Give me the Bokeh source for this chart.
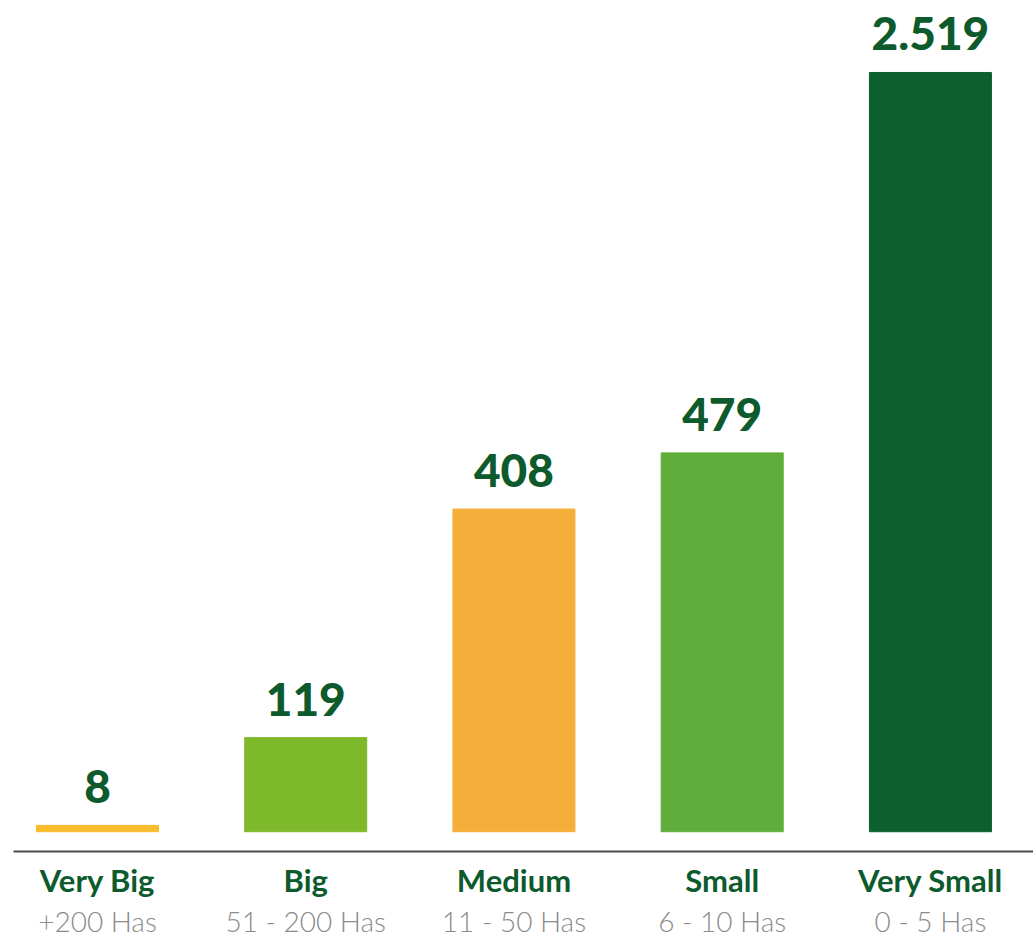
from bokeh.plotting import figure
from bokeh.models import ColumnDataSource, Range1d, FixedTicker, LinearAxis, LabelSet
from bokeh.core.properties import value
from bokeh.embed import file_html
from bokeh.resources import INLINE

# ---- data ----
categories = ["Very Big", "Big", "Medium", "Small", "Very Small"]
size_ranges = ["+200 Has", "51 - 200 Has", "11 - 50 Has", "6 - 10 Has", "0 - 5 Has"]
values = [8, 119, 408, 479, 2519]
value_labels = ["8", "119", "408", "479", "2.519"]
colors = ["#F8BC2C", "#7EB82B", "#F6AE3B", "#5FAD3A", "#0B602D"]

GREEN_TEXT = "#0D5A2D"
GRAY_TEXT = "#8C8C8C"
Y_START, Y_END = -25, 1051
BAR_CAP = 960  # the tallest bar is drawn broken (truncated) at this height

xs = list(range(len(categories)))
shown = [min(v, BAR_CAP) for v in values]
src = ColumnDataSource(dict(
    x=xs,
    top=shown,
    color=colors,
    label=value_labels,
))

p = figure(
    width=1033, height=940,
    x_range=Range1d(-0.4034, 4.495),
    y_range=Range1d(Y_START, Y_END),
    output_backend="svg", toolbar_location=None,
    min_border_top=0, min_border_left=13, min_border_right=0, min_border_bottom=0,
)
p.background_fill_color = "white"
p.border_fill_color = "white"
p.outline_line_color = None
p.xgrid.visible = False
p.ygrid.visible = False
p.yaxis.visible = False

p.vbar(x="x", top="top", bottom=0, width=0.586, fill_color="color",
       line_color="color", source=src)

labels = LabelSet(x="x", y="top", text="label", source=src,
                  text_align="center", text_baseline="alphabetic", y_offset=22,
                  text_font=value("Lato Black"),
                  text_font_size="46px", text_color=GREEN_TEXT)
p.add_layout(labels)

ax = p.xaxis[0]
ax.ticker = FixedTicker(ticks=xs)
ax.major_label_overrides = {i: c for i, c in zip(xs, categories)}
ax.axis_line_color = "#4A4A4A"
ax.axis_line_width = 2
ax.major_tick_line_color = None
ax.minor_tick_line_color = None
ax.major_tick_out = 0
ax.major_tick_in = 0
ax.major_label_standoff = 9
ax.major_label_text_font = "Lato"
ax.major_label_text_font_style = "bold"
ax.major_label_text_font_size = "31px"
ax.major_label_text_color = GREEN_TEXT

ax2 = LinearAxis(ticker=FixedTicker(ticks=xs),
                 major_label_overrides={i: s for i, s in zip(xs, size_ranges)})
ax2.axis_line_color = None
ax2.major_tick_line_color = None
ax2.minor_tick_line_color = None
ax2.major_tick_out = 0
ax2.major_tick_in = 0
ax2.major_label_standoff = 2
ax2.major_label_text_font = "Lato Light"
ax2.major_label_text_font_size = "28px"
ax2.major_label_text_color = GRAY_TEXT
p.add_layout(ax2, "below")

open("out.html", "w").write(file_html(p, INLINE))
